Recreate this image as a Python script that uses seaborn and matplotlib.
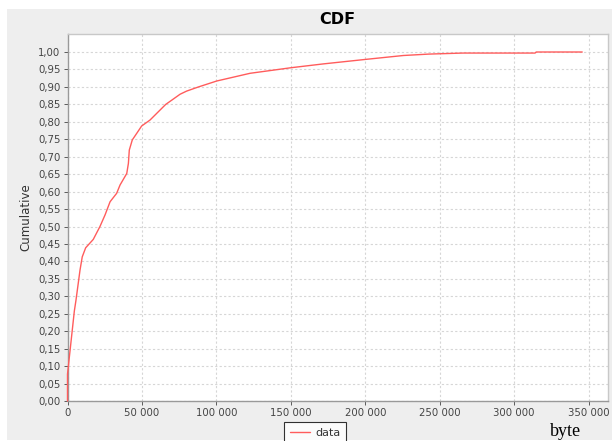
import matplotlib
matplotlib.use('Agg')
import matplotlib.pyplot as plt
import seaborn as sns
from matplotlib.patches import Rectangle
from matplotlib.ticker import FuncFormatter, FixedLocator

# data
byte_vals = [0, 0, 4600, 5700, 8400, 9900, 12200, 17300, 21800, 25200, 28600,
             33000, 35300, 39800, 40900, 41500, 43500, 46500, 49800, 55400,
             66000, 70000, 75600, 80000, 88000, 100300, 122600, 150200,
             172000, 200600, 225600, 242500, 265600, 314000, 314800, 345700]
cumulative = [0, 0.077, 0.258, 0.289, 0.375, 0.413, 0.439, 0.463, 0.50, 0.533,
              0.571, 0.595, 0.619, 0.652, 0.681, 0.719, 0.748, 0.767, 0.788,
              0.805, 0.85, 0.862, 0.879, 0.888, 0.90, 0.917, 0.939, 0.955,
              0.966, 0.979, 0.990, 0.994, 0.997, 0.997, 1.0, 1.0]
x_ticks = [0, 50000, 100000, 150000, 200000, 250000, 300000, 350000]
y_ticks = [i / 20 for i in range(21)]
series_name = 'data'

sns.set_style('white')
plt.rcParams['font.family'] = ['DejaVu Sans']

fig = plt.figure(figsize=(6.12, 4.41), dpi=100)
fig.patch.set_facecolor('white')
fig.patches.append(Rectangle((7 / 612, 1 / 441), 605 / 612, 431 / 441,
                             transform=fig.transFigure, facecolor='#eeeeee',
                             edgecolor='none', zorder=-10))

ax = fig.add_axes([67.5 / 612, 1 - 401 / 441, (608 - 67.5) / 612, (401 - 34) / 441])
ax.set_zorder(1)
ax.set_facecolor('white')

sns.lineplot(x=byte_vals, y=cumulative, ax=ax, color='#ff5c5c', linewidth=1.0,
             sort=False, label=series_name, estimator=None, zorder=5)
for ln in ax.lines:
    ln.set_clip_on(False)

ax.set_xlim(0, 363000)
ax.set_ylim(0, 1.0516)
ax.xaxis.set_major_locator(FixedLocator(x_ticks))
ax.yaxis.set_major_locator(FixedLocator(y_ticks))
ax.xaxis.set_major_formatter(FuncFormatter(lambda v, p: f'{int(round(v)):,}'.replace(',', ' ')))
ax.yaxis.set_major_formatter(FuncFormatter(lambda v, p: f'{v:.2f}'.replace('.', ',')))

ax.grid(True, color='#d6d6d6', linestyle=(0, (2, 2)), linewidth=0.8)
ax.tick_params(axis='both', labelsize=7.3, colors='#444444', length=3, width=0.6,
               direction='out', pad=2)
ax.tick_params(axis='both', left=True, bottom=True)
for s in ['top', 'right']:
    ax.spines[s].set_color('#c8c8c8')
    ax.spines[s].set_linewidth(1.0)
for s in ['left', 'bottom']:
    ax.spines[s].set_color('#999999')
    ax.spines[s].set_linewidth(1.0)

ax.set_ylabel('Cumulative', fontsize=8.5, color='#333333', labelpad=4)
ax.set_xlabel('')
fig.text(337.8 / 612, 1 - 19 / 441, 'CDF', ha='center', va='center',
         fontsize=11.5, fontweight='bold', color='black')
fig.text(566 / 612, 1 - 431 / 441, 'byte', ha='center', va='center',
         fontsize=13, family='Liberation Serif', color='black')

leg = ax.legend(loc='upper left', bbox_to_anchor=(284 / 612, 1 - 422 / 441),
                bbox_transform=fig.transFigure, frameon=True, fancybox=False,
                fontsize=8, handlelength=1.8, borderpad=0.5, handletextpad=0.5,
                borderaxespad=0)
leg.get_frame().set_edgecolor('black')
leg.get_frame().set_linewidth(0.8)
leg.get_frame().set_facecolor('white')
for t in leg.get_texts():
    t.set_color('#333333')

fig.savefig('out.png', dpi=100)
